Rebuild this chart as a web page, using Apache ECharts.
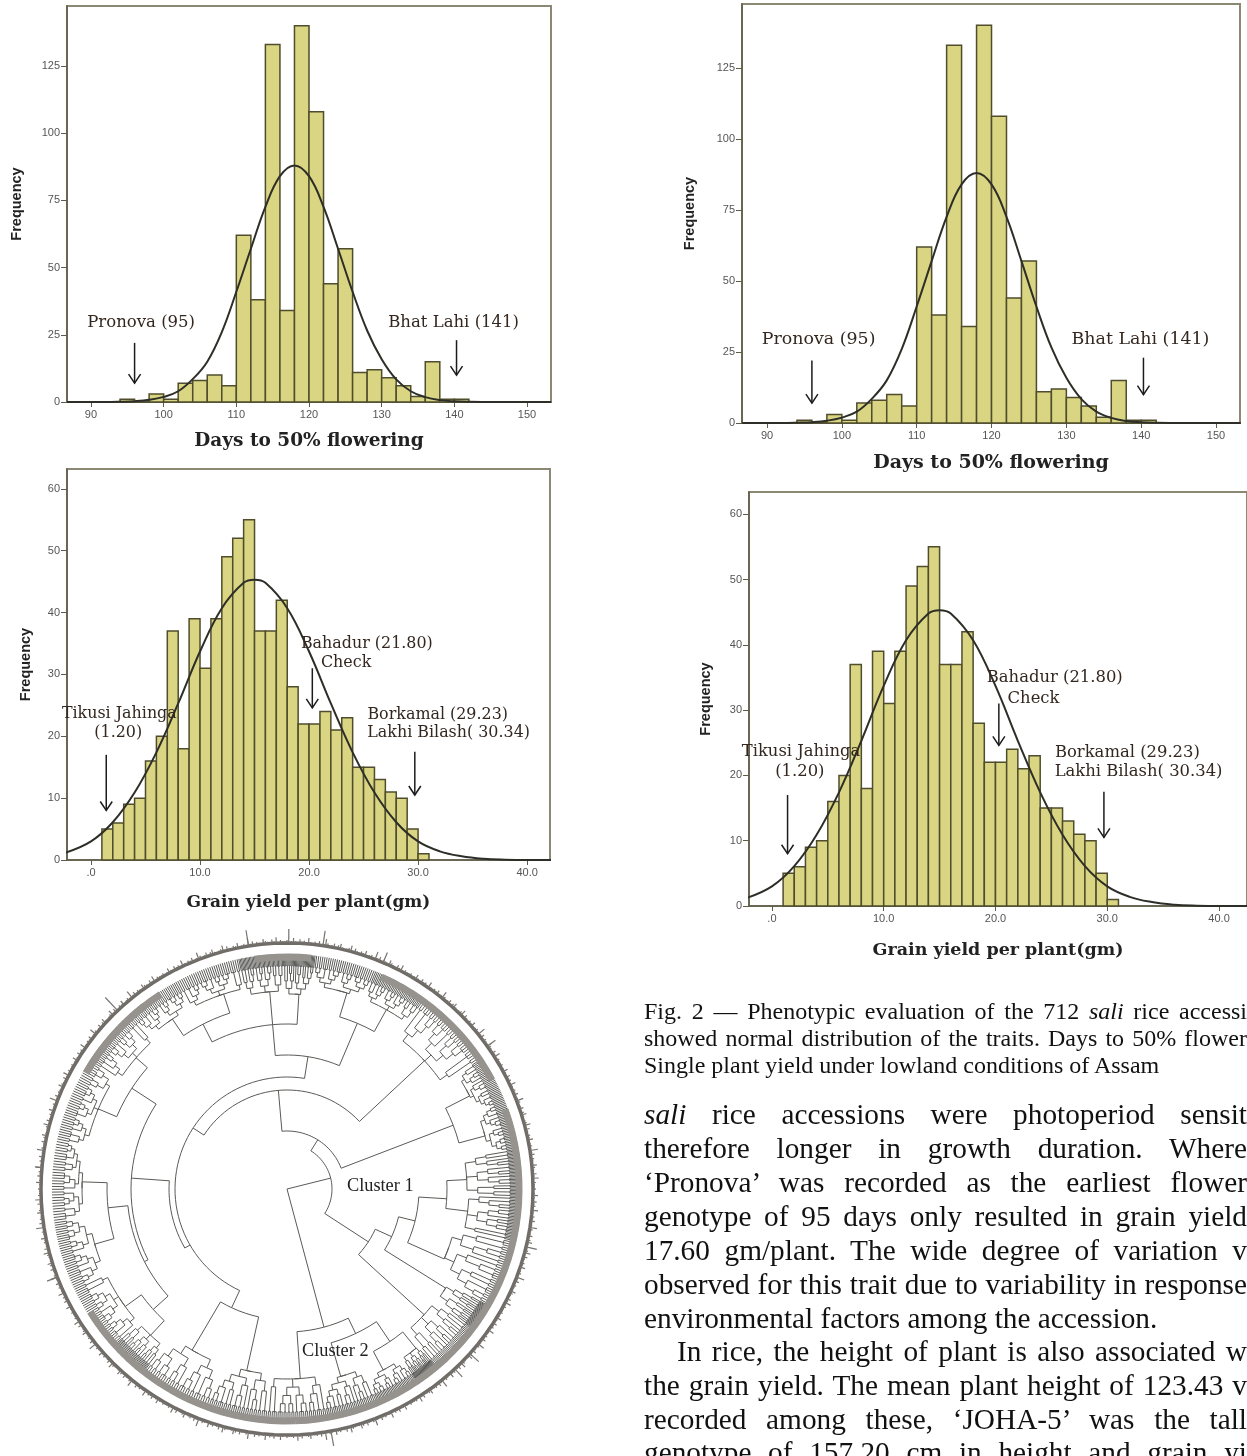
<!DOCTYPE html>
<html><head><meta charset="utf-8">
<style>
html,body{margin:0;padding:0;background:#fff;width:1247px;height:1456px;overflow:hidden}
#chart{position:absolute;left:0;top:0;width:1247px;height:1456px;filter:blur(0.6px)}
.t{position:absolute;white-space:nowrap;font-family:"Liberation Serif",serif;color:#111;overflow:hidden}
.j{text-align:justify;text-align-last:justify;white-space:normal}
</style>
<script src="https://cdn.jsdelivr.net/npm/echarts@6/dist/echarts.min.js"></script>
</head><body>
<div id="chart"></div>
<div id="text"></div>
<script>
// ---- histogram data
const dayBinStart=[94,96,98,100,102,104,106,108,110,112,114,116,118,120,122,124,126,128,130,132,134,136,138,140];
const dayBinCount=[1,0,3,1,7,8,10,6,62,38,133,34,140,108,44,57,11,12,9,6,2,15,1,1];
const dayCurveX=[86.7,92,94,96,98,100,102,104,106,108,110,112,114,116,118,120,122,124,126,128,130,132,134,136,138,140,142,146,153.3];
const dayCurveY=[0,0,0.1,0.3,0.8,1.9,4,8.5,15,26,41,57,72.6,84,88,84,72.6,57,41,26.6,15.9,8.4,4,1.8,0.7,0.25,0.07,0,0];
const dayTicksX=[90,100,110,120,130,140,150];
const dayTicksY=[0,25,50,75,100,125];
const grainBinStart=[1,2,3,4,5,6,7,8,9,10,11,12,13,14,15,16,17,18,19,20,21,22,23,24,25,26,27,28,29,30];
const grainBinCount=[5,6,9,10,16,20,37,18,39,31,39,49,52,55,37,37,42,28,22,22,24,21,23,15,15,13,11,10,5,1];
const grainCurveX=[-2.3,0,2,4,6,8,10,12,14,15,16,18,20,22,24,26,28,30,32,34,36,38,40,43];
const grainCurveY=[1.2,3,6.1,10.9,17.4,25.3,33.7,40.7,44.8,45.3,44.8,40.7,33.7,25.3,17.4,10.9,6.1,3,1.4,0.6,0.2,0.05,0,0];
const grainTicksX=[0,10,20,30,40];
const grainTickLabels=['.0','10.0','20.0','30.0','40.0'];
const grainTicksY=[0,10,20,30,40,50,60];
// ---- annotations, in data units: text, x, y  /  arrows: x, yFrom, yTo
const dayNotes=[['Pronova (95)',96.9,29.4],['Bhat Lahi (141)',139.9,29.4]];
const dayArrows=[[96,22,7],[140.3,23,10]];
const grainNotes=[['Tikusi Jahinga',2.6,23.6],['(1.20)',2.5,20.5],['Bahadur (21.80)',25.3,35],['Check',23.4,31.8],['Borkamal (29.23)',31.8,23.5],['Lakhi Bilash( 30.34)',32.8,20.5]];
const grainArrows=[[1.4,17,8],[20.3,31,24.6],[29.7,17.5,10.5]];
// ---- text
const captionLines=['Fig. 2 — Phenotypic evaluation of the 712 <i>sali</i> rice accessi','showed normal distribution of the traits. Days to 50% flower','Single plant yield under lowland conditions of Assam'];
const bodyLines=['<i>sali</i> rice accessions were photoperiod sensit','therefore longer in growth duration. Where','‘Pronova’ was recorded as the earliest flower','genotype of 95 days only resulted in grain yield','17.60 gm/plant. The wide degree of variation v','observed for this trait due to variability in response','environmental factors among the accession.','In rice, the height of plant is also associated w','the grain yield. The mean plant height of 123.43 v','recorded among these, ‘JOHA-5’ was the tall','genotype of 157.20 cm in height and grain yi'];
// ---- dendrogram: fan = {r,at,a0,a1,shape}; skeleton node = [radius, angle, ...children]
const shapes=[
 [[[2,3],[2,[2,2]]],[[3,[2,2]],[2,[3,2]]],[[2,2],[3,2]]],
 [[[[2,2],3],[2,[2,3]]],[[2,[2,2]],[[3,2],[2,2]]]],
 [[2,[3,[2,2]]],[[[2,3],2],[[2,2],[2,3]]],[3,2]],
 [[[3,2],[[2,2],2]],[[2,[2,3]],[[2,2],[3,[2,2]]]]]
];
const F=(r,at,a0,a1,s)=>({r,at,a0,a1,s});
const dendroTree=[0,0,
 [45,76,
  [58,32,
   [99,-5,
    [112,-57,
     [131,205,F(187,210.5,200,218,1),F(186,192.5,185,200,3)],
     [118,240,
      [156,274,
       [185,303,F(205,293,282,303,0),F(200,311,303,318,2)],
       [160,243,
        [180,264,F(205,272,262,282,3),F(200,254,245,262,1)],
        [180,228,F(200,234,228,245,2),F(200,223,218,228,0)]
       ]
      ]
     ],
     [134,369,
      [165,355,
       [185,333,F(205,326,318,332,1),F(205,342,332,348,2)],
       F(198,355,348,359,0),
       F(195,363.5,359,367,3)
      ],
      [180,383,F(205,377,367,382,1),F(205,389,382,396,0)]
     ]
    ],
    F(188,47,36,56,2)
   ],
   [178,69,F(205,63,56,68,3),F(205,75,68,80,1)]
  ],
  [97,123,
   [115,114.5,
    [132,104,
     [160,93.5,F(180,87,80,92,0),F(182,97,92,103,2)],
     F(172,114,103,120,3)
    ],
    F(187,122,120,127,1)
   ],
   F(186,132.5,127,140,0)
  ]
 ],
 [143,165,
  F(190,176,170,185,2),
  [160,154.6,F(195,164,157,170,3),[184,146,F(205,152,146,157,1),F(205,141,140,146,0)]]
 ]
];
const bandSectors=[[-60,-33],[-8,6],[24,62],[70,108],[108,178],[178,238],[300,322]];
const whiskerPattern=[3,1,2,5,2,1,4,2,3,1,6,2,1,3,2,4,1,2,7,3,1,2,4,1,3,5,2,1,2,3,6,1,4,2,1,3,2,5,1,2,3,1,8,2,4,1,3,2,1,5,3,2,1,4,2,6,1,3,2,2];
const whiskerSpikes=[[-9,262],[0.4,260],[8.4,261],[23,257],[54.5,256],[103.6,257],[169.7,261],[249,257],[275,253],[-43.5,264],[137,257],[132,258]];

// ---- dendrogram layout
const segs=[];
const TIP=223,LEAF=235,RING=246;
function leaves(n){return typeof n==='number'?n:n.reduce((s,k)=>s+leaves(k),0)}
function height(n){return typeof n==='number'?0:1+Math.max(...n.map(height))}
function layoutShape(n,a0,a1,r){
 if(typeof n==='number'){
  const st=(a1-a0)/n,cs=[];
  for(let i=0;i<n;i++){const a=a0+st*(i+.5);cs.push(a);segs.push([r,a,LEAF,a])}
  segs.push([r,cs[0],r,cs[n-1]]);
  return (cs[0]+cs[n-1])/2;
 }
 const tot=leaves(n),h=height(n);let a=a0;const cs=[];
 n.forEach(k=>{
  const w=(a1-a0)*leaves(k)/tot;
  const cr=typeof k==='number'?TIP:r+(TIP-r)/h;
  const c=layoutShape(k,a,a+w,cr);
  segs.push([r,c,cr,c]);cs.push(c);a+=w;
 });
 segs.push([r,cs[0],r,cs[cs.length-1]]);
 return (cs[0]+cs[cs.length-1])/2;
}
function layoutNode(n,parentR){
 if(!Array.isArray(n)){
  const c=layoutShape(shapes[n.s],n.a0,n.a1,n.r);
  segs.push([n.r,Math.min(c,n.at),n.r,Math.max(c,n.at)]);
  segs.push([parentR,n.at,n.r,n.at]);
  return n.at;
 }
 const [r,at,...kids]=n;
 const as=kids.map(k=>layoutNode(k,r));
 let lo=Math.min(...as),hi=Math.max(...as),own=at;
 while(own<lo-180)own+=360;
 while(own>hi+180)own-=360;
 if(parentR!=null){lo=Math.min(lo,own);hi=Math.max(hi,own);segs.push([parentR,at,r,at]);}
 segs.push([r,lo,r,hi]);
 return at;
}
layoutNode(dendroTree,null);
const whiskers=[];
for(let i=0;i<720;i++){whiskers.push([RING,i/2,RING+whiskerPattern[i%whiskerPattern.length],i/2])}
whiskerSpikes.forEach(s=>whiskers.push([RING,s[0],s[1],s[0]]));
const band=bandSectors.map(s=>[232,s[0],232,s[1]]);

// ---- helpers
function polarSeg(strokeColor,width,rows){
 return {type:'custom',coordinateSystem:'polar',polarIndex:0,silent:true,animation:false,data:rows,
  renderItem(p,api){
   const r0=api.value(0),a0=api.value(1),r1=api.value(2),a1=api.value(3);
   let pts;
   if(r0===r1){pts=[];const n=Math.max(1,Math.ceil(Math.abs(a1-a0)/3));
    for(let i=0;i<=n;i++)pts.push(api.coord([r0,a0+(a1-a0)*i/n]));}
   else pts=[api.coord([r0,a0]),api.coord([r1,a1])];
   return {type:'polyline',shape:{points:pts},style:{fill:null,stroke:strokeColor,lineWidth:width}};
  }};
}
const BAR_FILL='#d9d583',BAR_EDGE='#4f4d2c';
function histSeries(idx,starts,counts,binW,cx,cy,notes,arrows,noteSize){
 const axis={xAxisIndex:idx,yAxisIndex:idx,coordinateSystem:'cartesian2d',animation:false,silent:true};
 return [
  {...axis,type:'custom',data:starts.map((s,i)=>[s,counts[i]]),z:2,
   renderItem(p,api){
    const a=api.coord([api.value(0),api.value(1)]),b=api.coord([api.value(0)+binW,0]);
    return {type:'rect',shape:{x:a[0],y:a[1],width:b[0]-a[0],height:b[1]-a[1]},style:{fill:BAR_FILL,stroke:BAR_EDGE,lineWidth:1.5}};
   }},
  {...axis,type:'line',smooth:0.4,showSymbol:false,symbol:'none',z:3,data:cx.map((x,i)=>[x,cy[i]]),lineStyle:{color:'#2e2e28',width:2}},
  {...axis,type:'custom',data:arrows,z:4,
   renderItem(p,api){
    const a=api.coord([api.value(0),api.value(1)]),b=api.coord([api.value(0),api.value(2)]);
    const st={fill:null,stroke:'#1c1c1c',lineWidth:1.5};
    return {type:'group',children:[
     {type:'line',shape:{x1:a[0],y1:a[1],x2:b[0],y2:b[1]},style:st},
     {type:'polyline',shape:{points:[[b[0]-6,b[1]-9],[b[0],b[1]],[b[0]+6,b[1]-9]]},style:st}]};
   }},
  {...axis,type:'custom',data:notes.map(n=>[n[1],n[2]]),z:5,
   renderItem(p,api){
    const c=api.coord([api.value(0),api.value(1)]);
    return {type:'text',style:{text:notes[p.dataIndex][0],x:c[0],y:c[1],align:'center',verticalAlign:'middle',fill:'#33271f',font:noteSize+'px "DejaVu Serif"'}};
   }}
 ];
}
function gridCfg(l,t,r,b){return {left:l,top:t,width:r-l,height:b-t,show:true,backgroundColor:'#fff',borderColor:'#8b8874',borderWidth:2}}
function xAx(i,min,max,ticks,fmt,name,gap,fs){return {gridIndex:i,type:'value',min,max,splitLine:{show:false},
 axisLine:{onZero:false,lineStyle:{color:'#5e5c48',width:1.5}},
 axisTick:{length:5,lineStyle:{color:'#5e5c48'},customValues:ticks},
 axisLabel:{customValues:ticks,formatter:fmt,color:'#555',fontSize:11,fontFamily:'Liberation Sans',margin:7},
 name,nameLocation:'middle',nameGap:gap,nameTextStyle:{fontFamily:'DejaVu Serif',fontWeight:'bold',fontSize:fs,color:'#222'}}}
function yAx(i,max,ticks,gap){return {gridIndex:i,type:'value',min:0,max,splitLine:{show:false},
 axisLine:{onZero:false,lineStyle:{color:'#5e5c48',width:1.5}},
 axisTick:{length:6,lineStyle:{color:'#5e5c48'},customValues:ticks},
 axisLabel:{customValues:ticks,color:'#555',fontSize:11,fontFamily:'Liberation Sans',margin:7},
 name:'Frequency',nameLocation:'middle',nameGap:gap,nameTextStyle:{fontFamily:'Liberation Sans',fontWeight:'bold',fontSize:14.5,color:'#222'}}}
const dayFmt=v=>String(v);
const grainFmt=v=>grainTickLabels[grainTicksX.indexOf(v)];
const DAY='Days to 50% flowering',GRAIN='Grain yield per plant(gm)';

const chart=echarts.init(document.getElementById('chart'),null,{renderer:'canvas'});
chart.setOption({
 animation:false,backgroundColor:'#fff',
 grid:[gridCfg(67,6,551,402),gridCfg(742,4,1240,423),gridCfg(67,469,550,860),gridCfg(749,492,1249,906)],
 xAxis:[xAx(0,86.7,153.3,dayTicksX,dayFmt,DAY,30,18.5),xAx(1,86.66,153.2,dayTicksX,dayFmt,DAY,31,19),
        xAx(2,-2.2,42.1,grainTicksX,grainFmt,GRAIN,34,17),xAx(3,-2.05,42.5,grainTicksX,grainFmt,GRAIN,35,17.5)],
 yAxis:[yAx(0,147.3,dayTicksY,43),yAx(1,147.5,dayTicksY,45),yAx(2,63.2,grainTicksY,34),yAx(3,63.4,grainTicksY,36)],
 polar:{center:[287,1189],radius:270},
 radiusAxis:{min:0,max:270,show:false,polarIndex:0},
 angleAxis:{min:0,max:360,startAngle:90,clockwise:true,show:false,polarIndex:0},
 series:[
  ...histSeries(0,dayBinStart,dayBinCount,2,dayCurveX,dayCurveY,dayNotes,dayArrows,16.5),
  ...histSeries(1,dayBinStart,dayBinCount,2,dayCurveX,dayCurveY,dayNotes,dayArrows,17.4),
  ...histSeries(2,grainBinStart,grainBinCount,1,grainCurveX,grainCurveY,grainNotes,grainArrows,15.9),
  ...histSeries(3,grainBinStart,grainBinCount,1,grainCurveX,grainCurveY,grainNotes,grainArrows,16.4),
  polarSeg('#5a5a57',1,segs),
  polarSeg('#96928d',7,band),
  polarSeg('#6f6c68',3.5,[[RING,0,RING,360]]),
  polarSeg('#77736e',1.2,whiskers)
 ],
 graphic:[
  {type:'text',left:347,top:1177,style:{text:'Cluster 1',font:'18.3px "Liberation Serif"',fill:'#222'},z:50},
  {type:'text',left:302,top:1342,style:{text:'Cluster 2',font:'18.3px "Liberation Serif"',fill:'#222'},z:50}
 ]
});

// ---- page text
const host=document.getElementById('text');
function addLine(html,left,cy,size,justify){
 const d=document.createElement('div');d.className='t'+(justify?' j':'');
 d.style.cssText=`left:${left}px;top:${cy-size*0.62}px;font-size:${size}px;line-height:${size*1.2}px;height:${size*1.2}px;width:${1247-left}px;`;
 d.innerHTML=html;host.appendChild(d);
}
const capY=[1012,1039,1066];
captionLines.forEach((l,i)=>addLine(l,644,capY[i],24,i<2));
const bodyY=[1115,1149,1183,1217,1251,1285,1319,1352,1386,1420,1453];
bodyLines.forEach((l,i)=>addLine(l,i===7?677:644,bodyY[i],29.3,i!==6));
</script>
</body></html>
